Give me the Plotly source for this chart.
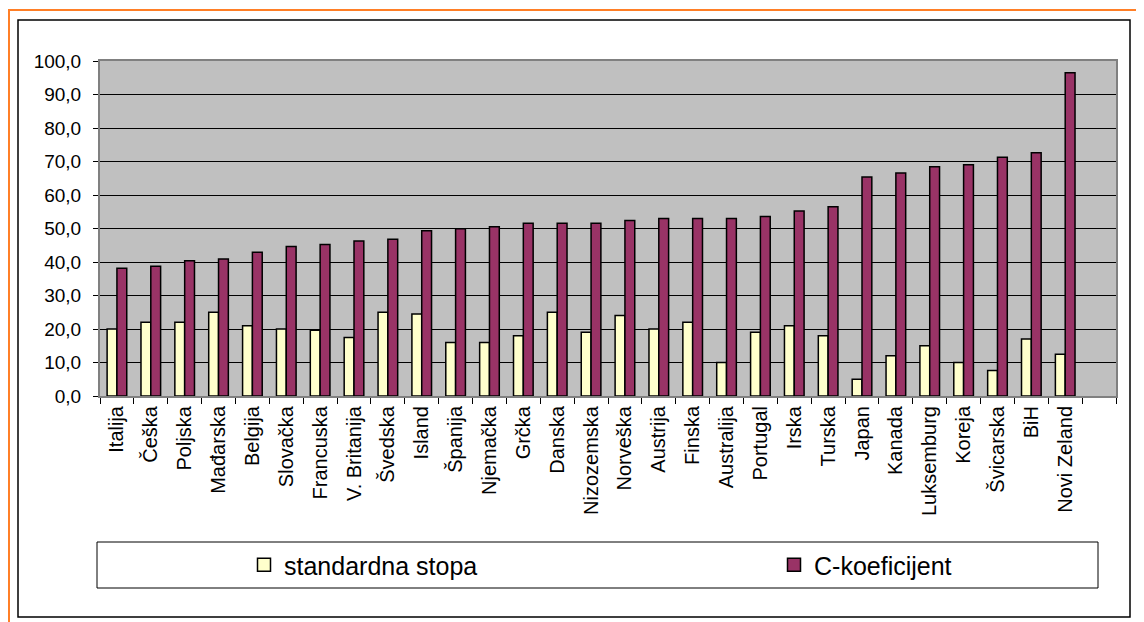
import plotly.graph_objects as go

countries = ["Italija", "Češka", "Poljska", "Mađarska", "Belgija", "Slovačka", "Francuska",
             "V. Britanija", "Švedska", "Island", "Španija", "Njemačka", "Grčka", "Danska",
             "Nizozemska", "Norveška", "Austrija", "Finska", "Australija", "Portugal", "Irska",
             "Turska", "Japan", "Kanada", "Luksemburg", "Koreja", "Švicarska", "BiH", "Novi Zeland"]
empty_slot = [" "]

standardna_stopa = [20.0, 22.0, 22.0, 25.0, 21.0, 20.0, 19.6, 17.5, 25.0, 24.5, 16.0, 16.0, 18.0, 25.0,
                    19.0, 24.0, 20.0, 22.0, 10.0, 19.0, 21.0, 18.0, 5.0, 12.0, 15.0, 10.0, 7.6, 17.0, 12.5]
c_koeficijent = [38.1, 38.7, 40.4, 40.9, 42.9, 44.6, 45.2, 46.3, 46.8, 49.3, 49.9, 50.5, 51.6, 51.6,
                 51.6, 52.4, 53.0, 53.0, 53.0, 53.6, 55.2, 56.5, 65.4, 66.6, 68.4, 69.0, 71.3, 72.6, 96.5]

y_ticks = [0, 10, 20, 30, 40, 50, 60, 70, 80, 90, 100]

cats = countries + empty_slot

# the page puts the figure 8px in from the top-left corner
OFF = 8
W, H = 1144 - OFF, 622 - OFF
L, R, T, B = 100 - OFF, 1116 - OFF, 61 - OFF, 396 - OFF

STD_COLOR = "#FFFFCC"
C_COLOR = "#993366"


def px_x(p):
    return (p - OFF - L) / (R - L)


def px_y(p):
    return (B - (p - OFF)) / (B - T)


font = "Liberation Sans, Arial, sans-serif"

fig = go.Figure()
fig.add_trace(go.Bar(
    x=cats, y=standardna_stopa + [None], name="standardna stopa", showlegend=False,
    marker=dict(color=STD_COLOR, line=dict(color="black", width=1.5)),
))
fig.add_trace(go.Bar(
    x=cats, y=c_koeficijent + [None], name="C-koeficijent", showlegend=False,
    marker=dict(color=C_COLOR, line=dict(color="black", width=1.5)),
))
# legend entries (square swatches like the original)
fig.add_trace(go.Scatter(
    x=[None], y=[None], mode="markers", name="standardna stopa", legend="legend",
    marker=dict(symbol="square", size=13, color=STD_COLOR, line=dict(color="black", width=1.5)),
))
fig.add_trace(go.Scatter(
    x=[None], y=[None], mode="markers", name="C-koeficijent", legend="legend2",
    marker=dict(symbol="square", size=13, color=C_COLOR, line=dict(color="black", width=1.5)),
))

legend_common = dict(
    orientation="h",
    xref="container", yref="container",
    yanchor="middle", xanchor="left",
    y=1 - (565 - OFF) / H,
    font=dict(family=font, size=25, color="black"),
    bgcolor="rgba(0,0,0,0)",
    borderwidth=0,
    itemclick=False, itemdoubleclick=False,
)

fig.update_layout(
    template="none",
    width=W, height=H,
    margin=dict(l=L, r=W - R, t=T, b=H - B, autoexpand=False),
    paper_bgcolor="white",
    plot_bgcolor="#C0C0C0",
    barmode="group",
    bargap=0.42,
    bargroupgap=0.0,
    separators=", ",
    font=dict(family=font, color="black", size=19),
    showlegend=True,
    legend=dict(x=(244 - OFF) / W, **legend_common),
    legend2=dict(x=(774 - OFF) / W, **legend_common),
    xaxis=dict(
        type="category",
        categoryorder="array", categoryarray=cats,
        range=[-0.5, len(cats) - 0.5],
        tickangle=-90,
        tickson="boundaries",
        ticks="outside", ticklen=6, tickcolor="black", tickwidth=1,
        showgrid=False,
        showline=True, linecolor="#808080", linewidth=2, mirror=True,
        tickfont=dict(family=font, size=20, color="black"),
        automargin=False,
        fixedrange=True,
    ),
    yaxis=dict(
        range=[0, 100],
        tickvals=y_ticks,
        tickformat=".1f",
        ticks="outside", ticklen=5, tickcolor="black", tickwidth=1,
        ticklabelstandoff=8,
        showgrid=True, gridcolor="black", gridwidth=1,
        zeroline=False,
        showline=True, linecolor="#808080", linewidth=2, mirror=True,
        tickfont=dict(family=font, size=19, color="black"),
        automargin=False,
        fixedrange=True,
    ),
    shapes=[
        # outer orange frame
        dict(type="rect", xref="paper", yref="paper",
             x0=px_x(OFF + 1), x1=px_x(1138), y0=px_y(625), y1=px_y(10),
             line=dict(color="#FF7F27", width=2), layer="below"),
        # inner black frame
        dict(type="rect", xref="paper", yref="paper",
             x0=px_x(18), x1=px_x(1130), y0=px_y(617), y1=px_y(20),
             line=dict(color="black", width=1.5), layer="below"),
        # legend box
        dict(type="rect", xref="paper", yref="paper",
             x0=px_x(97), x1=px_x(1098), y0=px_y(588), y1=px_y(542),
             line=dict(color="black", width=1), fillcolor="white", layer="below"),
    ],
)

fig.write_html("out.html")
